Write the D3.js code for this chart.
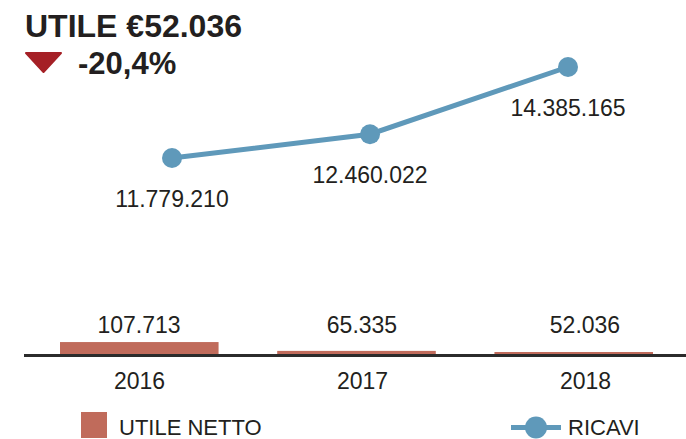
<!DOCTYPE html>
<html>
<head>
<meta charset="utf-8">
<script src="https://cdn.jsdelivr.net/npm/d3@7"></script>
<style>
  body { margin: 0; background: #fff; }
  text { font-family: "Liberation Sans", Arial, sans-serif; fill: #231f20; }
</style>
</head>
<body>
<div id="chart-area"></div>
<script>
// Data
var years = ["2016", "2017", "2018"];
var utileNetto = [107713, 65335, 52036];
var ricavi = [11779210, 12460022, 14385165];

// Chart area
var width = 686,
    height = 439,
    baseline = 355;

var svg = d3.select("#chart-area").append("svg")
    .attr("width", width)
    .attr("height", height);

// Italian number format
var it = d3.formatLocale({decimal: ",", thousands: ".", grouping: [3], currency: ["€", ""], minus: "-"});
var fmt = it.format(",d");
var pct = it.format(".1f");

// Scales
var xBar = d3.scaleBand()
    .domain(years)
    .range([60, 653])
    .paddingInner(0.27)
    .paddingOuter(0);

var xLabel = d3.scalePoint()
    .domain(years)
    .range([139, 585]);

var xLine = d3.scalePoint()
    .domain(years)
    .range([172, 568]);

// bars are tiny, small ones get a minimum height
var yBar = d3.scaleLinear()
    .domain([60000, 108000])
    .range([2, 12])
    .clamp(true);

var yLine = d3.scaleLinear()
    .domain([6138000, 16304000])
    .range([baseline, 0]);

// Title
var last = utileNetto[utileNetto.length - 1],
    prev = utileNetto[utileNetto.length - 2];
svg.append("text")
    .attr("x", 25)
    .attr("y", 37)
    .style("font-size", "32px")
    .style("font-weight", "bold")
    .text("UTILE €" + fmt(last));

svg.append("path")
    .attr("d", "M26,53 L61,53 L43.5,72 Z")
    .attr("fill", "#a52026")
    .attr("stroke", "#a52026")
    .attr("stroke-width", 2)
    .attr("stroke-linejoin", "round");

svg.append("text")
    .attr("x", 78)
    .attr("y", 74)
    .style("font-size", "31px")
    .style("font-weight", "bold")
    .text(pct((last - prev) / prev * 100) + "%");

// Bars
svg.selectAll(".bar")
    .data(utileNetto)
    .enter()
    .append("rect")
    .attr("class", "bar")
    .attr("x", (d, i) => xBar(years[i]))
    .attr("y", d => baseline - 1 - yBar(d))
    .attr("width", xBar.bandwidth())
    .attr("height", d => yBar(d))
    .attr("fill", "#c06b5b");

// Bar value labels
svg.selectAll(".barLabel")
    .data(utileNetto)
    .enter()
    .append("text")
    .attr("x", (d, i) => xLabel(years[i]))
    .attr("y", 333)
    .attr("text-anchor", "middle")
    .style("font-size", "23px")
    .text(d => fmt(d));

// Baseline axis
var xAxis = d3.axisBottom(xLabel).tickSize(0).tickPadding(18);
var axisG = svg.append("g")
    .attr("transform", "translate(0," + baseline + ")")
    .call(xAxis);
axisG.select(".domain").remove();
axisG.selectAll("text")
    .style("font-size", "23px")
    .style("font-family", "Liberation Sans, Arial, sans-serif")
    .attr("fill", "#231f20");
svg.append("line")
    .attr("x1", 24)
    .attr("x2", width)
    .attr("y1", baseline + 0.5)
    .attr("y2", baseline + 0.5)
    .attr("stroke", "#2b2b2b")
    .attr("stroke-width", 3);

// Line
var line = d3.line()
    .x((d, i) => xLine(years[i]))
    .y(d => yLine(d));

svg.append("path")
    .datum(ricavi)
    .attr("d", line)
    .attr("fill", "none")
    .attr("stroke", "#5f99ba")
    .attr("stroke-width", 5);

svg.selectAll(".dot")
    .data(ricavi)
    .enter()
    .append("circle")
    .attr("cx", (d, i) => xLine(years[i]))
    .attr("cy", d => yLine(d))
    .attr("r", 10)
    .attr("fill", "#5f99ba");

svg.selectAll(".lineLabel")
    .data(ricavi)
    .enter()
    .append("text")
    .attr("x", (d, i) => xLine(years[i]))
    .attr("y", d => yLine(d) + 49)
    .attr("text-anchor", "middle")
    .style("font-size", "23px")
    .text(d => fmt(d));

// Legend
svg.append("rect")
    .attr("x", 81)
    .attr("y", 412)
    .attr("width", 26)
    .attr("height", 26)
    .attr("fill", "#c06b5b");
svg.append("text")
    .attr("x", 119)
    .attr("y", 435)
    .style("font-size", "22px")
    .text("UTILE NETTO");

svg.append("line")
    .attr("x1", 511)
    .attr("x2", 561)
    .attr("y1", 427.5)
    .attr("y2", 427.5)
    .attr("stroke", "#5f99ba")
    .attr("stroke-width", 5);
svg.append("circle")
    .attr("cx", 536)
    .attr("cy", 427.5)
    .attr("r", 11)
    .attr("fill", "#5f99ba");
svg.append("text")
    .attr("x", 568)
    .attr("y", 435)
    .style("font-size", "22px")
    .text("RICAVI");
</script>
</body>
</html>
